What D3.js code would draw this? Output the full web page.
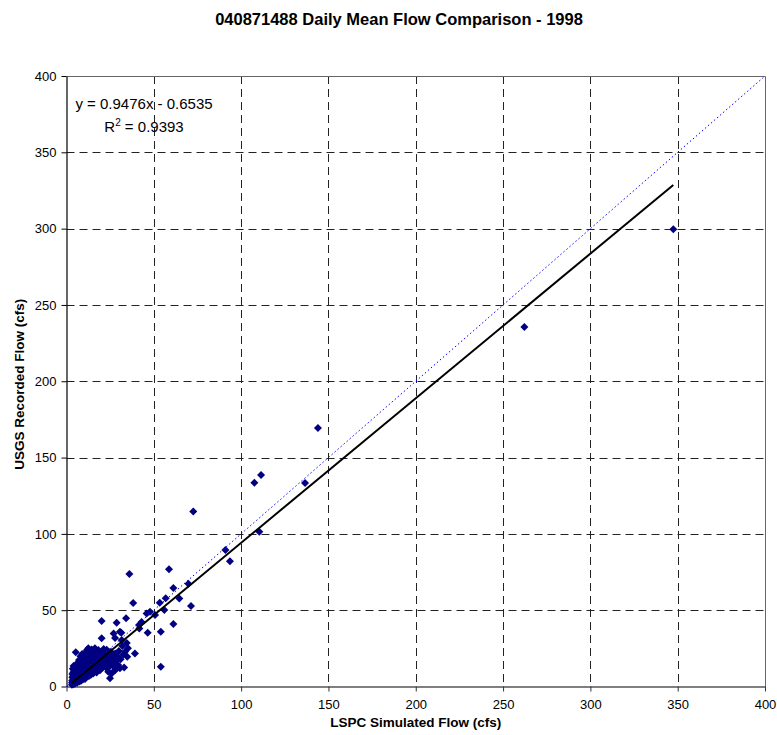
<!DOCTYPE html>
<html>
<head>
<meta charset="utf-8">
<script src="https://cdn.jsdelivr.net/npm/d3@7"></script>
<style>
  html, body { margin: 0; padding: 0; background: #fff; }
  svg { display: block; font-family: Arial, "Liberation Sans", sans-serif; }
</style>
</head>
<body>
<svg id="chart" width="777" height="735"></svg>
<script>
// Daily mean flows, 1998: [LSPC simulated (cfs), USGS recorded (cfs)]
const dailyFlows = [
  [3.1,1.2],[3.2,2.6],[3.3,4.0],[3.4,5.9],[3.4,8.2],[3.5,1.8],[3.6,3.3],[3.6,11.6],[3.7,6.7],[3.8,2.2],
  [3.9,9.4],[4.0,4.6],[4.0,13.5],[4.1,1.5],[4.2,7.3],[4.2,3.0],[4.3,5.3],[4.4,10.6],[4.5,2.5],[4.6,6.1],
  [4.7,8.7],[4.7,3.8],[4.8,12.4],[4.9,1.9],[5.0,5.0],[5.0,7.9],[5.1,3.4],[5.2,9.9],[5.3,22.4],
  [5.3,2.7],[5.4,6.3],[5.5,4.4],[5.6,11.2],[5.7,8.1],[5.8,3.1],[5.9,13.8],[6.0,5.6],[6.0,7.2],[6.1,2.4],
  [6.2,9.5],[6.3,4.1],[6.4,15.6],[6.5,6.8],[6.6,3.6],[6.7,10.7],[6.8,5.2],[6.9,8.4],[7.0,12.6],[7.0,4.5],
  [7.1,6.2],[7.2,17.4],[7.3,3.2],[7.4,9.1],[7.5,7.0],[7.6,14.2],[7.7,5.5],[7.8,11.3],[7.9,4.0],[8.0,8.0],
  [8.0,19.8],[8.1,6.5],
  [8.2,13.1],[8.3,3.8],[8.4,9.7],[8.5,7.3],[8.6,16.2],[8.7,5.1],[8.8,11.9],[8.9,8.6],[9.0,21.3],[9.1,6.0],
  [9.2,14.5],[9.3,4.6],[9.4,10.2],[9.5,18.0],[9.6,7.8],[9.7,12.7],[9.8,5.7],[9.9,9.3],[10.0,15.9],[10.1,11.0],
  [10.2,6.9],[10.3,20.4],[10.4,8.3],[10.5,13.6],[10.6,4.9],[10.7,17.1],[10.8,10.0],[10.9,7.4],[11.0,22.6],[11.1,12.2],
  [11.2,9.0],[11.3,15.1],[11.4,6.4],[11.5,19.0],[11.6,11.4],[11.7,8.2],[11.8,14.0],[11.9,24.1],
  [12.0,10.5],[12.1,7.1],[12.2,16.8],[12.3,12.9],[12.5,25.0],[12.5,9.4],[12.7,20.2],[12.8,14.7],[12.9,6.8],[13.0,11.7],
  [13.2,18.6],[13.3,8.9],[13.4,22.8],[13.5,13.3],[13.7,16.0],[13.8,10.1],[14.0,7.7],[14.1,19.4],[14.2,12.4],[14.4,24.3],
  [14.5,15.2],[14.6,9.6],[14.8,17.7],[14.9,11.8],[15.0,21.5],[15.2,13.9],[15.3,8.5],[15.5,16.5],[15.6,23.0],[15.8,12.0],
  [15.9,19.1],
  [16.1,10.4],[16.3,25.0],[16.4,14.3],[16.6,17.9],[16.8,21.2],[17.0,12.6],[17.2,9.2],[17.3,16.1],[17.5,19.7],[17.7,13.8],
  [17.9,22.5],[18.1,11.2],[18.2,23.9],[18.4,15.5],[18.6,18.3],[18.8,13.0],[19.0,20.8],[19.2,10.7],[19.4,16.9],[19.7,14.4],
  [19.9,22.0],[20.1,31.6],[20.1,42.9],[20.3,18.5],[20.5,12.3],[20.8,15.8],[21.0,20.0],[21.3,24.6],[21.6,13.5],[21.9,17.2],
  [22.2,21.1],[22.5,14.9],[22.8,18.8],[23.0,24.0],[23.3,11.6],[23.6,16.3],[23.9,9.7],[24.3,20.3],[24.6,13.2],[24.9,5.4],
  [25.0,17.5],[25.4,22.7],[25.6,20.6],[26.0,8.6],[26.1,15.0],[26.5,19.0],[27.0,34.8],[27.2,12.8],[27.8,31.8],[27.9,21.7],
  [28.0,10.8],[28.4,16.7],[28.7,11.9],[28.7,41.8],[29.2,19.6],[29.6,14.1],[30.0,23.2],[30.6,11.9],[30.6,35.9],[31.0,17.8],
  [31.4,35.2],[31.6,30.5],[32.0,26.5],[32.5,21.0],[33.0,12.4],[33.5,22.8],[34.1,44.7],[34.5,28.5],[34.8,19.5],[35.2,25.0],
  [36.0,73.7],[38.2,54.7],[39.2,21.7],[41.5,40.3],[41.7,38.0],[43.0,42.2],[45.9,47.9],[46.5,35.2],[47.8,49.0],[50.7,46.8],
  [53.4,54.8],[54.0,35.9],[54.0,13.0],[56.0,50.1],[56.8,57.8],[58.7,76.9],[61.2,64.5],[61.2,40.9],[64.6,57.6],[69.8,67.3],
  [71.3,52.8],[72.6,114.7],[91.0,89.4],[93.6,82.0],[107.6,133.5],[110.4,101.4],[111.4,138.5],[136.6,133.3],[144.0,169.3],
  [262.2,235.6],[347.5,299.6]
];

const xTicks = [0, 50, 100, 150, 200, 250, 300, 350, 400];
const yTicks = [0, 50, 100, 150, 200, 250, 300, 350, 400];

// Least-squares fit shown on the chart
const trendSlope = 0.9476;
const trendIntercept = -0.6535;
const trendR2 = 0.9393;

const titleText = "040871488 Daily Mean Flow Comparison - 1998";
const xTitle = "LSPC Simulated Flow (cfs)";
const yTitle = "USGS Recorded Flow (cfs)";

const svg = d3.select("#chart");
const plotLeft = 66.5, plotRight = 765, plotTop = 76, plotBottom = 686.5;

const x = d3.scaleLinear().domain([0, 400]).range([plotLeft, plotRight]);
const y = d3.scaleLinear().domain([0, 400]).range([plotBottom, plotTop]);

// Title
svg.append("text")
  .attr("x", 399).attr("y", 25)
  .attr("text-anchor", "middle")
  .style("font-size", "16.5px").style("font-weight", "bold")
  .text(titleText);

// Dashed grid
const grid = svg.append("g").attr("stroke", "#222").attr("stroke-width", 1)
  .attr("stroke-dasharray", "8,5");
grid.selectAll("line.h").data(yTicks.slice(1, -1)).join("line")
  .attr("class", "h")
  .attr("x1", plotLeft).attr("x2", plotRight)
  .attr("y1", d => Math.round(y(d)) + 0.5).attr("y2", d => Math.round(y(d)) + 0.5);
grid.selectAll("line.v").data(xTicks.slice(1, -1)).join("line")
  .attr("class", "v")
  .attr("x1", d => Math.round(x(d)) + 0.5).attr("x2", d => Math.round(x(d)) + 0.5)
  .attr("y1", plotTop).attr("y2", plotBottom);

// Plot frame (top and right)
svg.append("path")
  .attr("d", `M${plotLeft},${plotTop + 0.5}H${plotRight + 0.5}V${plotBottom}`)
  .attr("fill", "none").attr("stroke", "#666").attr("stroke-width", 1);

// Axes
const xAxis = svg.append("g")
  .attr("transform", `translate(0,${plotBottom})`)
  .call(d3.axisBottom(x).tickValues(xTicks).tickSize(5).tickPadding(8).tickSizeOuter(0));
const yAxis = svg.append("g")
  .attr("transform", `translate(${plotLeft},0)`)
  .call(d3.axisLeft(y).tickValues(yTicks).tickSize(5).tickPadding(5).tickSizeOuter(0));

[xAxis, yAxis].forEach(g => {
  g.selectAll("text").style("font-size", "13px").style("font-family", "Arial, 'Liberation Sans', sans-serif").attr("fill", "#000");
});
xAxis.select(".domain").attr("stroke", "#555").attr("stroke-width", 1.6);
xAxis.selectAll(".tick line").attr("stroke", "#333");
yAxis.select(".domain").attr("stroke", "#000").attr("stroke-width", 1.2);
yAxis.selectAll(".tick line").attr("stroke", "#000");

// Axis titles
svg.append("text")
  .attr("x", (plotLeft + plotRight) / 2).attr("y", 727)
  .attr("text-anchor", "middle")
  .style("font-size", "13.5px").style("font-weight", "bold")
  .text(xTitle);
svg.append("text")
  .attr("transform", `translate(24,${(plotTop + plotBottom) / 2 + 3}) rotate(-90)`)
  .attr("text-anchor", "middle")
  .style("font-size", "13.5px").style("font-weight", "bold")
  .text(yTitle);

// Observations as diamonds
const diamond = {
  draw(ctx, size) {
    const r = Math.sqrt(size / 2);
    ctx.moveTo(0, -r); ctx.lineTo(r, 0); ctx.lineTo(0, r); ctx.lineTo(-r, 0); ctx.closePath();
  }
};
svg.append("g").selectAll("path").data(dailyFlows).join("path")
  .attr("transform", d => `translate(${x(d[0])},${y(d[1])})`)
  .attr("d", d3.symbol().type(diamond).size(32))
  .attr("fill", "#000080");

// 1:1 reference line
const line = d3.line().x(d => x(d[0])).y(d => y(d[1]));
svg.append("path")
  .attr("d", line([[0, 0], [400, 400]]))
  .attr("fill", "none").attr("stroke", "#0000ff").attr("stroke-width", 1)
  .attr("stroke-dasharray", "1.5,2.5");

// Linear trend over the range of simulated flow
const [xMin, xMax] = d3.extent(dailyFlows, d => d[0]);
svg.append("path")
  .attr("d", line([xMin, xMax].map(v => [v, trendSlope * v + trendIntercept])))
  .attr("fill", "none").attr("stroke", "#000").attr("stroke-width", 2);

// Trend equation label
const eq = svg.append("g").style("font-size", "15px");
eq.append("text").attr("x", 144).attr("y", 109).attr("text-anchor", "middle")
  .text(`y = ${trendSlope}x - ${Math.abs(trendIntercept)}`);
const r2 = eq.append("text").attr("x", 144).attr("y", 132).attr("text-anchor", "middle");
r2.append("tspan").text("R");
r2.append("tspan").attr("dy", -6).style("font-size", "10px").text("2");
r2.append("tspan").attr("dy", 6).text(` = ${trendR2}`);
</script>
</body>
</html>
